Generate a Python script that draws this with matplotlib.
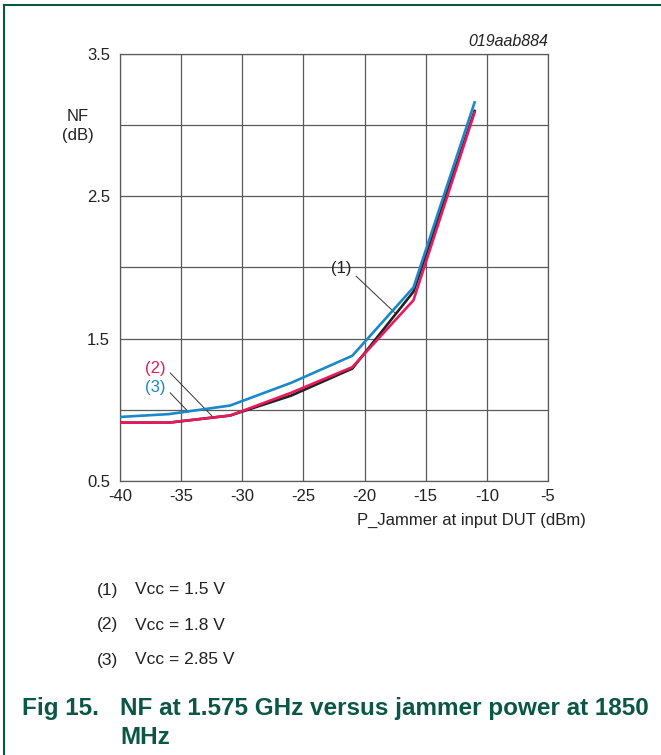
"""NF at 1.575 GHz versus jammer power at 1850 MHz (datasheet Fig 15)."""

import matplotlib as mpl
import matplotlib.pyplot as plt
from matplotlib.lines import Line2D
from matplotlib.ticker import MultipleLocator

mpl.rcParams.update(
    {
        "font.family": ["Liberation Sans", "DejaVu Sans"],
        "font.size": 11,
        "axes.unicode_minus": False,
    }
)

GRID_C = "#5a5a5a"
GREEN_C = "#0b5745"
TEXT_C = "#222222"
BLACK_C = "#222222"
RED_C = "#e8195c"
BLUE_C = "#1a88c9"

# P_Jammer at input DUT (dBm)
p_jammer = [-40, -36, -31, -26, -21, -16, -11]
# NF (dB) per supply voltage
nf_vcc_1v5 = [0.91, 0.91, 0.96, 1.10, 1.29, 1.83, 3.10]
nf_vcc_1v8 = [0.91, 0.91, 0.96, 1.12, 1.30, 1.77, 3.09]
nf_vcc_2v85 = [0.95, 0.97, 1.03, 1.19, 1.38, 1.86, 3.16]

x_ticks = [-40, -35, -30, -25, -20, -15, -10, -5]
y_ticks = [0.5, 1.5, 2.5, 3.5]
legend_rows = [("(1)", "Vcc = 1.5 V"), ("(2)", "Vcc = 1.8 V"), ("(3)", "Vcc = 2.85 V")]

fig = plt.figure(figsize=(6.61, 7.55), dpi=100)

# page frame (top and left rules)
fig.add_artist(Line2D([0.006, 1.0], [0.993, 0.993], color=GREEN_C, lw=1.5))
fig.add_artist(Line2D([0.006, 0.006], [0.0, 0.993], color=GREEN_C, lw=1.5))

ax = fig.add_axes([0.1815, 0.3629, 0.6475, 0.5656])
ax.plot(p_jammer, nf_vcc_1v5, color=BLACK_C, lw=1.9, zorder=3)
ax.plot(p_jammer, nf_vcc_2v85, color=BLUE_C, lw=1.9, zorder=4)
ax.plot(p_jammer, nf_vcc_1v8, color=RED_C, lw=1.9, zorder=5)

ax.set_xlim(-40, -5)
ax.set_ylim(0.5, 3.5)
ax.set_xticks(x_ticks)
ax.set_yticks(y_ticks)
ax.yaxis.set_minor_locator(MultipleLocator(0.5))
ax.grid(True, which="both", color=GRID_C, lw=0.9)
ax.tick_params(which="both", length=0, labelsize=12, colors=TEXT_C)
ax.tick_params(axis="x", pad=6)
ax.tick_params(axis="y", pad=7)
for s in ax.spines.values():
    s.set_color(GRID_C)
    s.set_linewidth(0.9)
ax.set_axisbelow(True)

# curve labels with leader lines
curve_labels = [
    ("(1)", (-21.9, 1.99), (-20.7, 1.94), (-17.5, 1.68), TEXT_C),
    ("(2)", (-37.1, 1.29), (-35.9, 1.26), (-32.4, 0.95), RED_C),
    ("(3)", (-37.1, 1.16), (-35.9, 1.12), (-34.4, 0.985), BLUE_C),
]
for tag, txt_xy, start, end, c in curve_labels:
    ax.text(*txt_xy, tag, color=c, fontsize=12, ha="center", va="center")
    ax.annotate("", xy=end, xytext=start,
                arrowprops=dict(arrowstyle="-", color="#333333", lw=0.7,
                                shrinkA=0, shrinkB=0))

ax.text(1.0, 1.012, "019aab884", transform=ax.transAxes, ha="right",
        va="bottom", fontsize=11.5, style="italic", color=TEXT_C)
fig.text(0.118, 1 - 126 / 755, "NF\n(dB)", ha="center", va="center",
         fontsize=12, linespacing=1.4, color=TEXT_C)
fig.text(0.887, 1 - 520 / 755, "P_Jammer at input DUT (dBm)", ha="right",
         va="center", fontsize=12, color=TEXT_C)

for i, (tag, txt) in enumerate(legend_rows):
    y = 1 - (590 + 35 * i) / 755
    fig.text(0.147, y, tag, ha="left", va="center", fontsize=12.5, color=TEXT_C)
    fig.text(0.204, y, txt, ha="left", va="center", fontsize=12.5, color=TEXT_C)

fig.text(0.033, 1 - 708 / 755, "Fig 15.", ha="left", va="center",
         fontsize=17.5, fontweight="bold", color=GREEN_C)
fig.text(0.182, 1 - 708 / 755, "NF at 1.575 GHz versus jammer power at 1850",
         ha="left", va="center", fontsize=17.5, fontweight="bold", color=GREEN_C)
fig.text(0.182, 1 - 738 / 755, "MHz", ha="left", va="center",
         fontsize=17.5, fontweight="bold", color=GREEN_C)

fig.savefig("out.png", dpi=100)
